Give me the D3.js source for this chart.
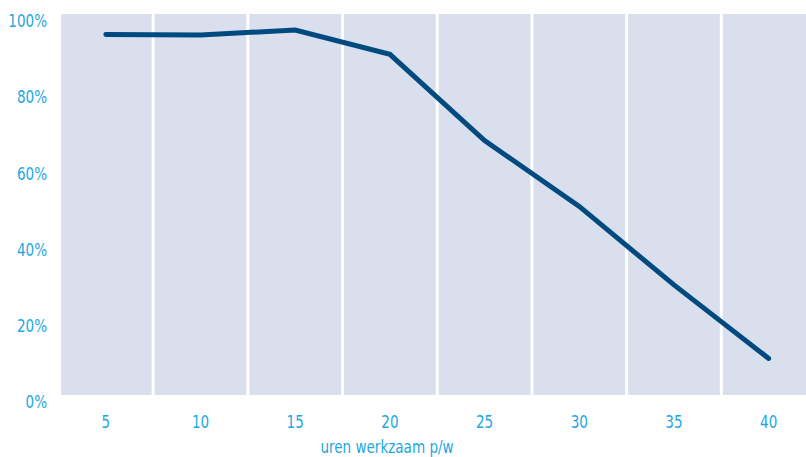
<!DOCTYPE html>
<html><head><meta charset="utf-8">
<script src="https://cdn.jsdelivr.net/npm/d3@7"></script>
<style>
html,body{margin:0;padding:0;background:#fff;}
text{font-family:"DejaVu Sans Condensed","Liberation Sans Narrow",sans-serif;font-weight:400;}
</style></head>
<body><svg id="c" width="806" height="457"></svg>
<script>
const categories = ["5","10","15","20","25","30","35","40"];
const values = [94.6, 94.5, 95.8, 89.4, 66.8, 49.5, 28.9, 9.6];
const yTicks = [0, 20, 40, 60, 80, 100];
const xTitle = "uren werkzaam p/w";

(function(){
const svg = d3.select("#c");
const pLeft = 58.5, pRight = 816, pTop = 14, pBottom = 395;
const x = d3.scaleBand().domain(categories).range([pLeft, pRight]).padding(0);
const y = d3.scaleLinear().domain([0, 100]).range([pBottom, pTop]);
const color = "#1ea7e1";
const sx = 0.86;

svg.append("rect").attr("x", 61).attr("y", pTop).attr("width", 806 - 61).attr("height", pBottom - pTop).attr("fill", "#d9dfec");

svg.append("g").selectAll("line").data(categories.slice(1)).join("line")
  .attr("x1", d => x(d)).attr("x2", d => x(d))
  .attr("y1", pTop).attr("y2", pBottom)
  .attr("stroke", "#fff").attr("stroke-width", 3);

function label(px, py, txt, anchor) {
  svg.append("g").attr("transform", `translate(${px},${py}) scale(${sx},1)`)
    .append("text").attr("dy", "0.35em").attr("text-anchor", anchor)
    .attr("fill", color).attr("font-size", 17.5).text(txt);
}

yTicks.forEach(d => label(47, y(d) + 7, d + "%", "end"));
categories.forEach(d => label(x(d) + x.bandwidth() / 2, 422, d, "middle"));
label(387, 447, xTitle, "middle");

const line = d3.line()
  .x((d, i) => x(categories[i]) + x.bandwidth() / 2)
  .y(d => y(d));
svg.append("path").datum(values).attr("d", line)
  .attr("fill", "none").attr("stroke", "#004a80").attr("stroke-width", 5)
  .attr("stroke-linecap", "round").attr("stroke-linejoin", "miter");
})();
</script></body></html>
